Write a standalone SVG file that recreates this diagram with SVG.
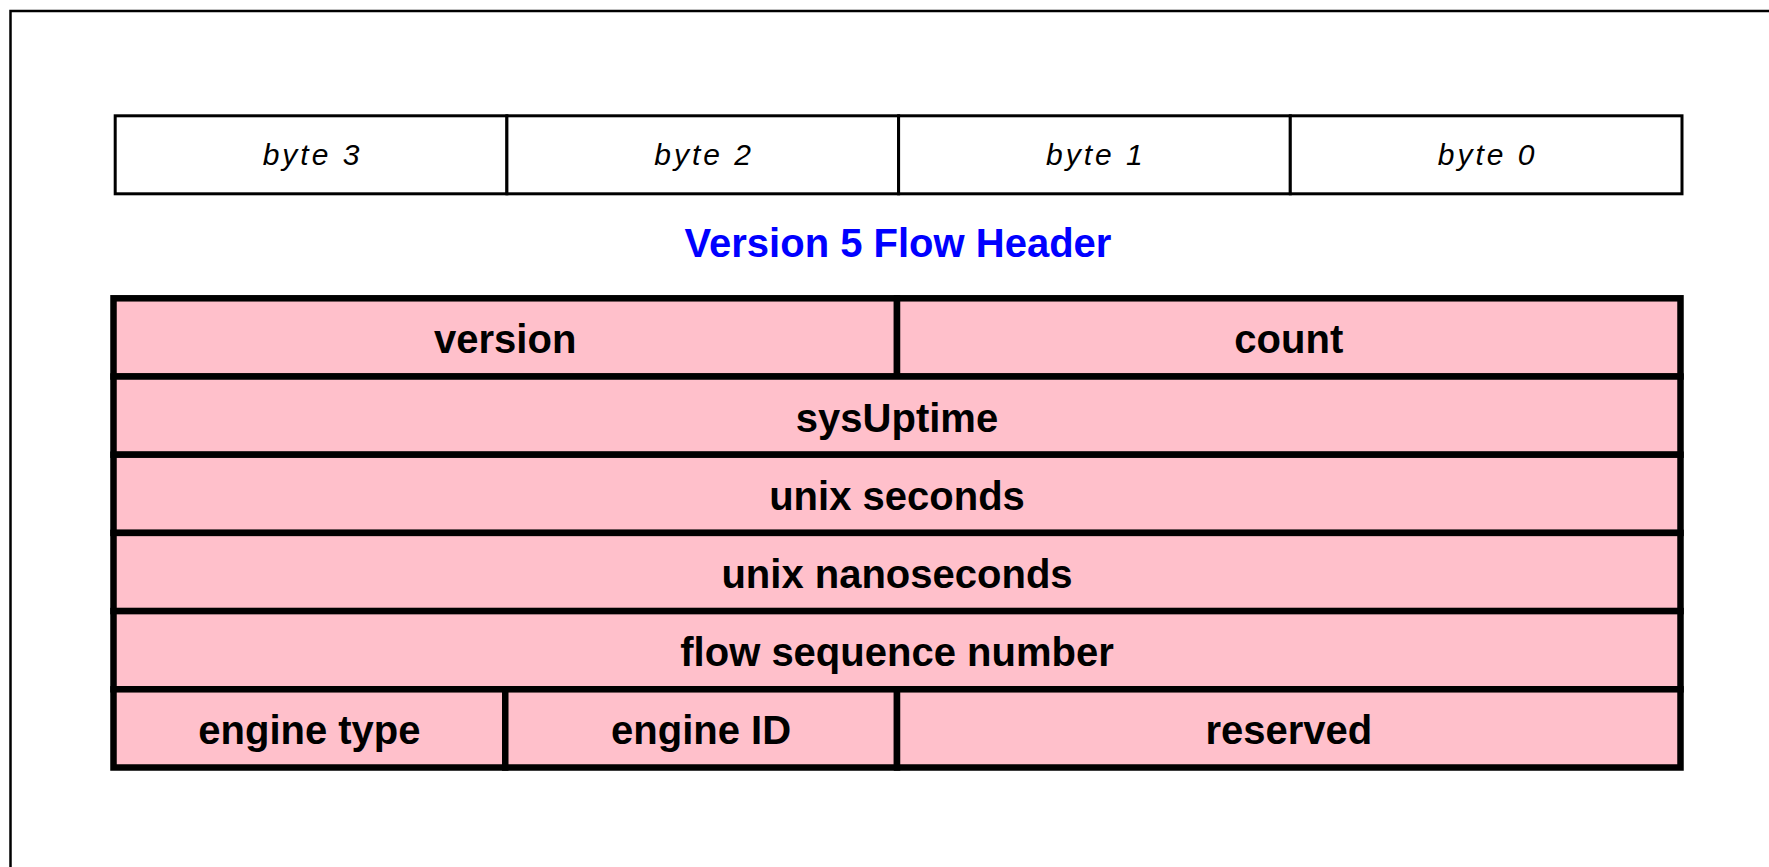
<svg xmlns="http://www.w3.org/2000/svg" width="1769" height="867" viewBox="0 0 1769 867">
  <style>
    .frame { fill: none; stroke: #000000; stroke-width: 2.5; }
    .byte { fill: #ffffff; stroke: #000000; stroke-width: 3; }
    .byte-label { font-family: "Liberation Sans", Arial, sans-serif; font-style: italic; font-size: 30px; letter-spacing: 3px; fill: #000000; text-anchor: middle; }
    .title { font-family: "Liberation Sans", Arial, sans-serif; font-weight: bold; font-size: 40px; fill: #0000ff; text-anchor: middle; }
    .field { fill: #ffc0cb; stroke: #000000; stroke-width: 6.5; }
    .field-label { font-family: "Liberation Sans", Arial, sans-serif; font-weight: bold; font-size: 40px; fill: #000000; text-anchor: middle; }
  </style>

  <!-- page background; the frame shows only its top and left edges -->
  <rect x="0" y="0" width="1769" height="867" fill="#ffffff"/>
  <path class="frame" d="M10.5 867 V11 H1769"/>

  <!-- byte column ruler -->
  <g id="byte-3">
    <rect class="byte" x="115.2" y="115.8" width="391.7" height="78"/>
    <text class="byte-label" x="312.5" y="165">byte 3</text>
  </g>
  <g id="byte-2">
    <rect class="byte" x="506.9" y="115.8" width="391.7" height="78"/>
    <text class="byte-label" x="704.2" y="165">byte 2</text>
  </g>
  <g id="byte-1">
    <rect class="byte" x="898.6" y="115.8" width="391.7" height="78"/>
    <text class="byte-label" x="1095.9" y="165">byte 1</text>
  </g>
  <g id="byte-0">
    <rect class="byte" x="1290.3" y="115.8" width="391.7" height="78"/>
    <text class="byte-label" x="1487.6" y="165">byte 0</text>
  </g>

  <!-- heading -->
  <g id="title">
    <text class="title" x="898" y="257">Version 5 Flow Header</text>
  </g>

  <!-- header fields, one 32-bit word per row -->
  <g id="field-version">
    <rect class="field" x="113.5" y="298.3" width="783.5" height="78.2"/>
    <text class="field-label" x="505.2" y="353">version</text>
  </g>
  <g id="field-count">
    <rect class="field" x="897" y="298.3" width="783.5" height="78.2"/>
    <text class="field-label" x="1288.8" y="353">count</text>
  </g>
  <g id="field-sysuptime">
    <rect class="field" x="113.5" y="376.5" width="1567" height="78.2"/>
    <text class="field-label" x="897" y="431.5">sysUptime</text>
  </g>
  <g id="field-unix-seconds">
    <rect class="field" x="113.5" y="454.7" width="1567" height="78.2"/>
    <text class="field-label" x="897" y="509.7">unix seconds</text>
  </g>
  <g id="field-unix-nanoseconds">
    <rect class="field" x="113.5" y="532.9" width="1567" height="78.2"/>
    <text class="field-label" x="897" y="587.9">unix nanoseconds</text>
  </g>
  <g id="field-flow-sequence">
    <rect class="field" x="113.5" y="611.1" width="1567" height="78.2"/>
    <text class="field-label" x="897" y="666.1">flow sequence number</text>
  </g>
  <g id="field-engine-type">
    <rect class="field" x="113.5" y="689.3" width="391.75" height="78.2"/>
    <text class="field-label" x="309.4" y="744">engine type</text>
  </g>
  <g id="field-engine-id">
    <rect class="field" x="505.25" y="689.3" width="391.75" height="78.2"/>
    <text class="field-label" x="701.1" y="744">engine ID</text>
  </g>
  <g id="field-reserved">
    <rect class="field" x="897" y="689.3" width="783.5" height="78.2"/>
    <text class="field-label" x="1288.8" y="744">reserved</text>
  </g>
</svg>
